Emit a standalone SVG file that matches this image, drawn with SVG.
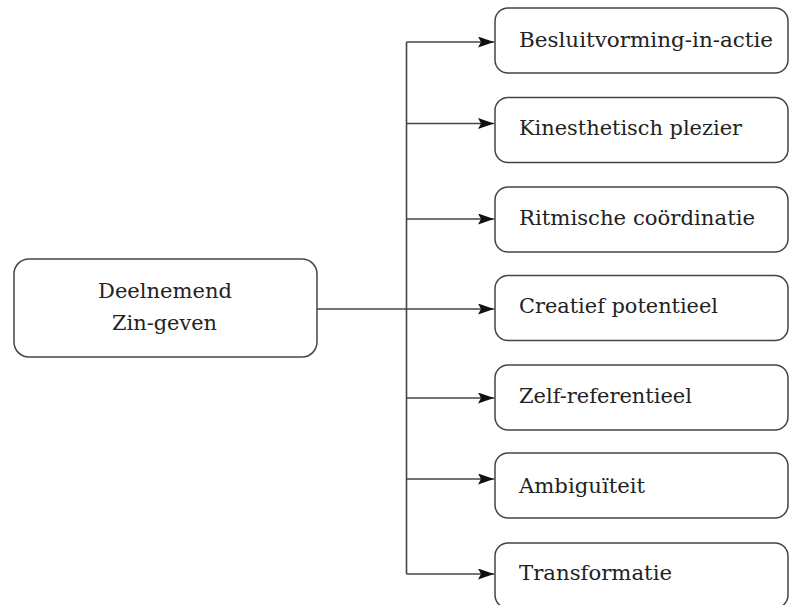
<svg xmlns="http://www.w3.org/2000/svg" width="790" height="605" viewBox="0 0 790 605">
<style>
.box{fill:#fff;stroke:#444;stroke-width:1.5}
.t{font-family:"DejaVu Serif","Liberation Serif",serif;font-size:20.5px;fill:#222}
.c{fill:none;stroke:#444;stroke-width:1.6}
</style>
<defs>
<marker id="ah" viewBox="0 0 16 11" refX="16" refY="5.5" markerWidth="16" markerHeight="11" markerUnits="userSpaceOnUse" orient="auto">
<path d="M0,0 L16,5.5 L0,11 L3,5.5 Z" fill="#111"/>
</marker>
</defs>
<rect width="790" height="605" fill="#fff"/>
<g id="connectors">
<path class="c" d="M317,309 H406.5"/>
<path class="c" d="M406.5,42 V574"/>
<path class="c" marker-end="url(#ah)" d="M406.5,42 H494"/>
<path class="c" marker-end="url(#ah)" d="M406.5,123.5 H494"/>
<path class="c" marker-end="url(#ah)" d="M406.5,219 H494"/>
<path class="c" marker-end="url(#ah)" d="M406.5,309 H494"/>
<path class="c" marker-end="url(#ah)" d="M406.5,398 H494"/>
<path class="c" marker-end="url(#ah)" d="M406.5,479 H494"/>
<path class="c" marker-end="url(#ah)" d="M406.5,574 H494"/>
</g>
<g id="source">
<rect class="box" x="14" y="259" width="303" height="98" rx="15"/>
<text class="t" x="98" y="298" textLength="134" lengthAdjust="spacingAndGlyphs">Deelnemend</text>
<text class="t" x="112" y="330" textLength="105" lengthAdjust="spacingAndGlyphs">Zin-geven</text>
</g>
<g id="n1">
<rect class="box" x="495" y="8" width="293" height="65" rx="13"/>
<text class="t" x="519" y="47" textLength="254" lengthAdjust="spacingAndGlyphs">Besluitvorming-in-actie</text>
</g>
<g id="n2">
<rect class="box" x="495" y="97.5" width="293" height="65" rx="13"/>
<text class="t" x="519" y="135" textLength="223" lengthAdjust="spacingAndGlyphs">Kinesthetisch plezier</text>
</g>
<g id="n3">
<rect class="box" x="495" y="187" width="293" height="65" rx="13"/>
<text class="t" x="519" y="225" textLength="236" lengthAdjust="spacingAndGlyphs">Ritmische coördinatie</text>
</g>
<g id="n4">
<rect class="box" x="495" y="275.5" width="293" height="65" rx="13"/>
<text class="t" x="519" y="313" textLength="199" lengthAdjust="spacingAndGlyphs">Creatief potentieel</text>
</g>
<g id="n5">
<rect class="box" x="495" y="365" width="293" height="65" rx="13"/>
<text class="t" x="519" y="403" textLength="173" lengthAdjust="spacingAndGlyphs">Zelf-referentieel</text>
</g>
<g id="n6">
<rect class="box" x="495" y="453" width="293" height="65" rx="13"/>
<text class="t" x="519" y="493" textLength="126" lengthAdjust="spacingAndGlyphs">Ambiguïteit</text>
</g>
<g id="n7">
<rect class="box" x="495" y="543" width="293" height="65" rx="13"/>
<text class="t" x="519" y="580" textLength="153" lengthAdjust="spacingAndGlyphs">Transformatie</text>
</g>
</svg>
